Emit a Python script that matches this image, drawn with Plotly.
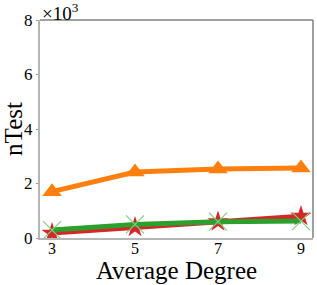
import plotly.graph_objects as go

degrees = [3, 5, 7, 9]
orange_vals = [1.70, 2.42, 2.53, 2.57]
green_vals = [0.29, 0.50, 0.60, 0.62]
red_vals = [0.18, 0.40, 0.60, 0.80]
y_ticks = [0, 2, 4, 6, 8]

fig = go.Figure()
fig.add_trace(go.Scatter(x=degrees, y=orange_vals, mode="lines+markers",
                         line=dict(color="#ff7f0e", width=5),
                         marker=dict(symbol="triangle-up", size=17, color="#ff7f0e")))
fig.add_trace(go.Scatter(x=degrees, y=red_vals, mode="lines+markers",
                         line=dict(color="#d62728", width=5),
                         marker=dict(symbol="star", size=16, color="#d62728")))
fig.add_trace(go.Scatter(x=degrees, y=green_vals, mode="lines+markers",
                         line=dict(color="#2ca02c", width=5),
                         marker=dict(symbol="x-thin", size=18,
                                     line=dict(color="#7fd07f", width=1.2))))

font = "Liberation Serif"
fig.update_layout(
    width=317, height=285,
    margin=dict(l=40, r=4, t=20, b=47, autoexpand=False),
    plot_bgcolor="white", paper_bgcolor="white",
    showlegend=False,
    font=dict(family=font, color="black", size=16),
    xaxis=dict(range=[2.71, 9.29], tickvals=degrees, ticks="", ticklabelstandoff=-5,
               showgrid=False, zeroline=False, automargin=False,
               showline=True, linecolor="#b5b5b5", linewidth=2,
               tickfont=dict(size=16, family=font, color="black"),
               title=dict(text="Average Degree", font=dict(size=25, family=font, color="black"), standoff=4)),
    yaxis=dict(range=[0, 8], tickvals=y_ticks, ticks="outside", ticklen=2,
               tickcolor="#999", showgrid=False, zeroline=False, automargin=False,
               showline=True, linecolor="#b5b5b5", linewidth=2,
               tickfont=dict(size=17, family=font, color="black"),
               title=dict(text="nTest", font=dict(size=25, family=font, color="black"), standoff=4)),
    shapes=[
        dict(type="line", xref="paper", yref="paper", x0=0, x1=1, y0=1, y1=1,
             line=dict(color="#808080", width=1.5)),
        dict(type="line", xref="paper", yref="paper", x0=1, x1=1, y0=0, y1=1,
             line=dict(color="#808080", width=1.5)),
    ],
    annotations=[dict(text="×10<sup>3</sup>", xref="paper", yref="paper", x=0.0, y=1.0,
                      xanchor="left", yanchor="bottom", yshift=-6, showarrow=False,
                      font=dict(size=19, family=font, color="black"))],
)

fig.write_html("out.html", config={"displayModeBar": False},
               post_script="document.body.style.margin='0';document.body.style.padding='0';")
